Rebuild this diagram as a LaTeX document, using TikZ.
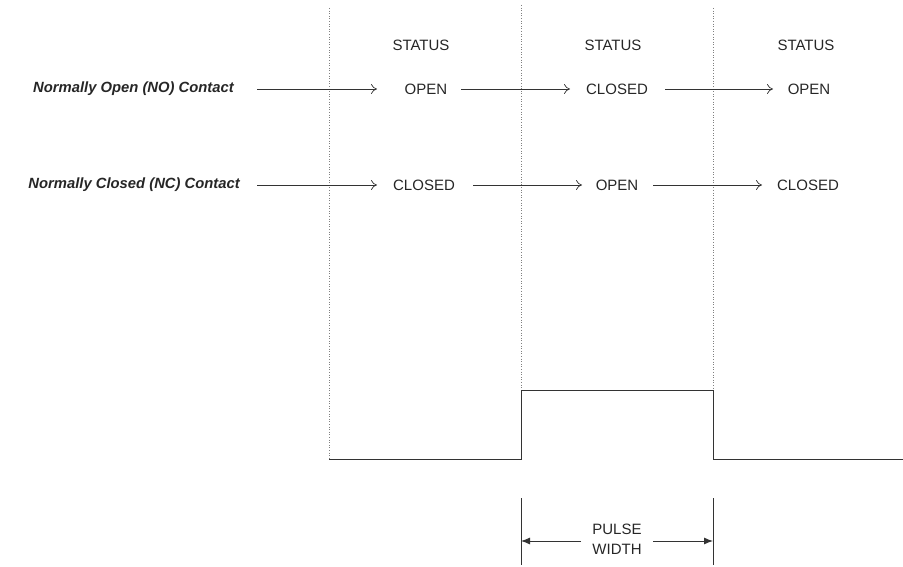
\documentclass[tikz,border=0pt]{standalone}
\usepackage{fontspec}
\setmainfont{Liberation Sans}
\usetikzlibrary{arrows.meta}
\begin{document}
\begin{tikzpicture}[x=1pt,y=-1pt,
  txt/.style={font=\fontsize{15}{17}\selectfont, text=black!85, inner sep=0pt},
  lbl/.style={font=\fontsize{14.8}{17}\selectfont\bfseries\itshape, text=black!85, inner sep=0pt},
  flow/.style={draw=black!80, line width=0.7pt, -{To[length=6pt,width=10pt]}},
  sep/.style={draw=black!50, line width=0.6pt, dotted},
  wave/.style={draw=black!80, line width=1pt},
  dim/.style={draw=black!80, line width=0.9pt, -{Latex[length=9pt,width=7pt]}}]
\useasboundingbox (0,0) rectangle (903,567);
% status headers
\node[txt] (s1) at (421,45) {STATUS};
\node[txt] (s2) at (613,45) {STATUS};
\node[txt] (s3) at (806,45) {STATUS};
% waveform corners
\coordinate (w0) at (329,459);
\coordinate (w1) at (521,459);
\coordinate (w2) at (521,390);
\coordinate (w3) at (713,390);
\coordinate (w4) at (713,459);
\coordinate (w5) at (903,459);
% dotted separators
\coordinate (d1) at (329,8);
\coordinate (d2) at (521,5);
\coordinate (d3) at (713,8);
\draw[sep] (d1) -- (w0);
\draw[sep] (d2) -- (w2);
\draw[sep] (d3) -- (w3);
\draw[wave] (w0) -- (w1) -- (w2) -- (w3) -- (w4) -- (w5);
% row 1
\node[lbl, anchor=east] (no) at (234,89) {Normally Open (NO) Contact};
\node[txt] (a1) at (426,89) {OPEN};
\node[txt] (a2) at (617,89) {CLOSED};
\node[txt] (a3) at (809,89) {OPEN};
\draw[flow] (257,89) coordinate (no0) -- (377,89) coordinate (no1);
\draw[flow] (461,89) coordinate (a1e) -- (570,89) coordinate (a2w);
\draw[flow] (665,89) coordinate (a2e) -- (773,89) coordinate (a3w);
% row 2
\node[lbl, anchor=east] (nc) at (240,185) {Normally Closed (NC) Contact};
\node[txt] (b1) at (424,185) {CLOSED};
\node[txt] (b2) at (617,185) {OPEN};
\node[txt] (b3) at (808,185) {CLOSED};
\draw[flow] (257,185) coordinate (nc0) -- (377,185) coordinate (nc1);
\draw[flow] (473,185) coordinate (b1e) -- (582,185) coordinate (b2w);
\draw[flow] (653,185) coordinate (b2e) -- (762,185) coordinate (b3w);
% pulse width
\coordinate (p1t) at (521,498); \coordinate (p1b) at (521,565);
\coordinate (p2t) at (713,498); \coordinate (p2b) at (713,565);
\draw[wave] (p1t) -- (p1b);
\draw[wave] (p2t) -- (p2b);
\node[txt, align=center, font=\fontsize{15}{20}\selectfont] (pw) at (617,539) {PULSE\\WIDTH};
\coordinate (pl) at (521,541); \coordinate (pr) at (713,541);
\draw[dim] (581,541) -- (pl);
\draw[dim] (653,541) -- (pr);
\end{tikzpicture}
\end{document}
